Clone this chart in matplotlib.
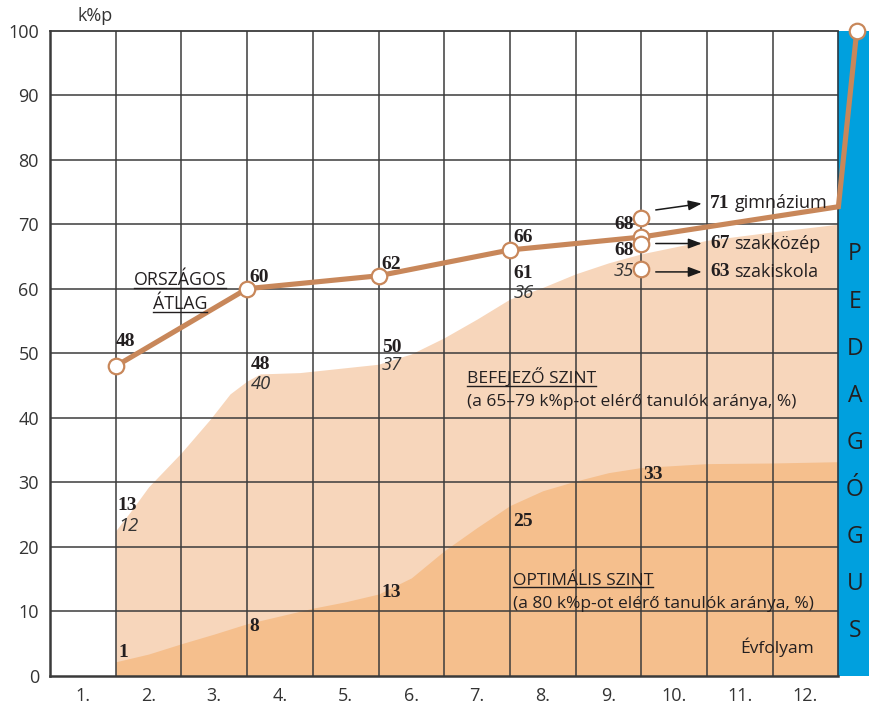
import matplotlib
matplotlib.use("Agg")
import matplotlib.pyplot as plt
import numpy as np
from matplotlib.patches import Rectangle

SANS = ["Open Sans", "DejaVu Sans"]
SERIF = ["Liberation Serif", "DejaVu Serif"]
INK = "#231f20"
LINE_C = "#c8875a"
LIGHT_C = "#f7d6bb"
DEEP_C = "#f5bf8d"
BLUE_C = "#00a0de"
GRID_C = "#3c3c3c"

# grades on the x axis
grades = ["1.", "2.", "3.", "4.", "5.", "6.", "7.", "8.", "9.", "10.", "11.", "12."]

# national average (k%p), measured at the end of the grades
avg_x = [1, 3, 5, 7, 9, 12, 12.28]
avg_val = [48, 60, 62, 66, 68, 72.7, 100]
avg_text = ["48", "60", "62", "66", "68"]

# results by school type after grade 9
school_val = [71, 67, 63]
school_text = ["71", "67", "63"]
school_names = ["gimnázium", "szakközép", "szakiskola"]

# outline of the "optimális szint" band
opt_x = [1, 1.5, 2, 2.5, 3, 3.5, 4, 4.5, 5, 5.5, 6, 6.5, 7, 7.5, 8, 8.5, 9, 10, 11, 12]
opt_top = [2.2, 3.4, 5.0, 6.5, 8.1, 9.3, 10.5, 11.5, 12.7, 15.2, 19.4, 23.0, 26.4,
           28.7, 30.2, 31.5, 32.3, 32.9, 33.0, 33.2]

# outline of the "befejező szint" band (cumulative)
fin_x = [1, 1.25, 1.5, 2, 2.44, 2.74, 3, 3.2, 3.8, 5, 5.5, 6, 6.5, 7, 7.5, 8, 8.5, 9,
         10, 11, 12]
fin_top = [22.5, 25.8, 29.3, 34.6, 39.8, 43.7, 45.7, 46.8, 47.0, 48.3, 49.9, 52.4,
           55.3, 58.4, 60.2, 62.3, 64.0, 65.4, 67.5, 68.8, 70.0]

# band values printed at the grade boundaries
band_x = [1, 3, 5, 7, 9]
fin_cum = ["13", "48", "50", "61", "68"]
fin_share = ["12", "40", "37", "36", "35"]
opt_share = ["1", "8", "13", "25", "33"]

fig = plt.figure(figsize=(8.69, 7.05), dpi=100)
ax = fig.add_axes([50 / 869, 29 / 705, 819 / 869, 645.5 / 705])
XMAX = 819 / 65.7
ax.set_xlim(0, XMAX)
ax.set_ylim(0, 100)

# bands
ax.fill_between(fin_x, 0, fin_top, color=LIGHT_C, lw=0, zorder=1)
ax.fill_between(opt_x, 0, opt_top, color=DEEP_C, lw=0, zorder=1.1)

# grid
ax.hlines(np.arange(10, 100, 10), 0, 12, color=GRID_C, lw=1.1, zorder=2)
ax.vlines(np.arange(1, 12), 0, 100, color=GRID_C, lw=1.1, zorder=2)

# blue side panel
ax.add_patch(Rectangle((12, 0), XMAX - 12, 100, facecolor=BLUE_C, edgecolor="none",
                       zorder=2.5, clip_on=False))
ax.vlines([12], 0, 100, color="#2a3a45", lw=1.2, zorder=2.6)
for i, ch in enumerate("PEDAGÓGUS"):
    ax.text(12.25, 65.3 - i * 7.3, ch, ha="center", va="center", fontsize=16.5,
            family=SANS, color=INK, zorder=6)

# frame
ax.spines["right"].set_visible(False)
ax.spines["top"].set_bounds(0, 12)
ax.spines["bottom"].set_bounds(0, 12)
for s in ["left", "bottom"]:
    ax.spines[s].set_color("#3a3a3a")
    ax.spines[s].set_linewidth(1.8)
ax.spines["top"].set_color("#3a3a3a")
ax.spines["top"].set_linewidth(1.3)
for s in ax.spines.values():
    s.set_zorder(3)

ax.set_xticks(np.arange(12) + 0.5)
ax.set_xticklabels(grades, family=SANS, fontsize=13, color="#333333")
ax.set_yticks(np.arange(0, 101, 10))
ax.set_yticklabels([str(v) for v in range(0, 101, 10)], family=SANS, fontsize=13,
                   color="#333333")
ax.tick_params(length=0)
ax.tick_params(axis="x", pad=8)
ax.tick_params(axis="y", pad=8)
ax.text(0.68, 102.3, "k%p", ha="center", va="center", fontsize=13, family=SANS,
        color="#333333", clip_on=False)

# national average line
ax.plot(avg_x, avg_val, color=LINE_C, lw=3.7, zorder=4, clip_on=False,
        solid_joinstyle="miter")
mk = [0, 1, 2, 3, 4, 6]
ax.scatter([avg_x[i] for i in mk], [avg_val[i] for i in mk], s=125, facecolor="white",
           edgecolor=LINE_C, linewidth=1.6, zorder=5, clip_on=False)
ax.scatter([9] * len(school_val), school_val, s=125, facecolor="white",
           edgecolor=LINE_C, linewidth=1.6, zorder=5.5, clip_on=False)

bold = dict(family=SERIF, fontweight="bold", fontsize=14, color=INK, zorder=7)
ital = dict(family=SANS, fontstyle="italic", fontsize=13.2, color="#333333", zorder=7)

avg_lab_pos = [(1.0, 51.8, "left"), (3.03, 61.7, "left"), (5.04, 63.7, "left"),
               (7.05, 67.9, "left"), (8.88, 69.9, "right")]
for (x, y, ha), t in zip(avg_lab_pos, avg_text):
    ax.text(x, y, t, ha=ha, va="center", **bold)

cum_pos = [(1.03, 26.4, "left"), (3.05, 48.2, "left"), (5.05, 50.9, "left"),
           (7.05, 62.3, "left"), (8.88, 65.9, "right")]
share_pos = [(1.04, 23.3, "left"), (3.06, 45.3, "left"), (5.05, 48.2, "left"),
             (7.05, 59.4, "left"), (8.88, 62.8, "right")]
opt_pos = [(1.04, 3.6, "left"), (3.03, 7.6, "left"), (5.05, 13.0, "left"),
           (7.05, 24.0, "left"), (9.03, 31.2, "left")]
for (x, y, ha), t in zip(cum_pos, fin_cum):
    ax.text(x, y, t, ha=ha, va="center", **bold)
for (x, y, ha), t in zip(share_pos, fin_share):
    ax.text(x, y, t, ha=ha, va="center", **ital)
for (x, y, ha), t in zip(opt_pos, opt_share):
    ax.text(x, y, t, ha=ha, va="center", **bold)

# school-type arrows and labels
arrow_y = [(72.2, 73.2), (67.0, 67.0), (62.6, 62.6)]
for (y0, y1), t, name in zip(arrow_y, school_text, school_names):
    ax.annotate("", xy=(9.92, y1), xytext=(9.22, y0),
                arrowprops=dict(arrowstyle="-|>,head_length=0.8,head_width=0.3",
                                color="#1a1a1a", lw=1.1, shrinkA=0, shrinkB=0),
                zorder=7)
    ax.text(10.05, y1, t, ha="left", va="center", **bold)
    ax.text(10.42, y1, name, ha="left", va="center", family=SANS, fontsize=13,
            color=INK, zorder=7)

# captions
def underlined(x, y, s, **kw):
    return ax.text(x, y, s, va="baseline", family=SANS, color=INK, zorder=7, **kw)

heads = [
    underlined(1.98, 60.5, "ORSZÁGOS", ha="center", fontsize=12.8),
    underlined(1.98, 56.8, "ÁTLAG", ha="center", fontsize=12.8),
    underlined(6.35, 45.2, "BEFEJEZŐ SZINT", ha="left", fontsize=12.5),
    underlined(7.04, 14.1, "OPTIMÁLIS SZINT", ha="left", fontsize=12.5),
]
ax.text(6.35, 41.8, "(a 65–79 k%p-ot elérő tanulók aránya, %)", va="baseline",
        ha="left", family=SANS, fontsize=12.5, color=INK, zorder=7)
ax.text(7.04, 10.5, "(a 80 k%p-ot elérő tanulók aránya, %)", va="baseline",
        ha="left", family=SANS, fontsize=12.5, color=INK, zorder=7)
ax.text(10.5, 3.5, "Évfolyam", va="baseline", ha="left", family=SANS,
        fontsize=12.5, color=INK, zorder=7)

fig.canvas.draw()
inv = ax.transData.inverted()
for t in heads:
    bb = t.get_window_extent()
    (x0, _), (x1, _) = inv.transform([(bb.x0, bb.y0), (bb.x1, bb.y0)])
    yb = t.get_position()[1] - 0.35
    ax.plot([x0, x1], [yb, yb], color=INK, lw=1.0, zorder=7)

fig.savefig("out.png", dpi=100)
